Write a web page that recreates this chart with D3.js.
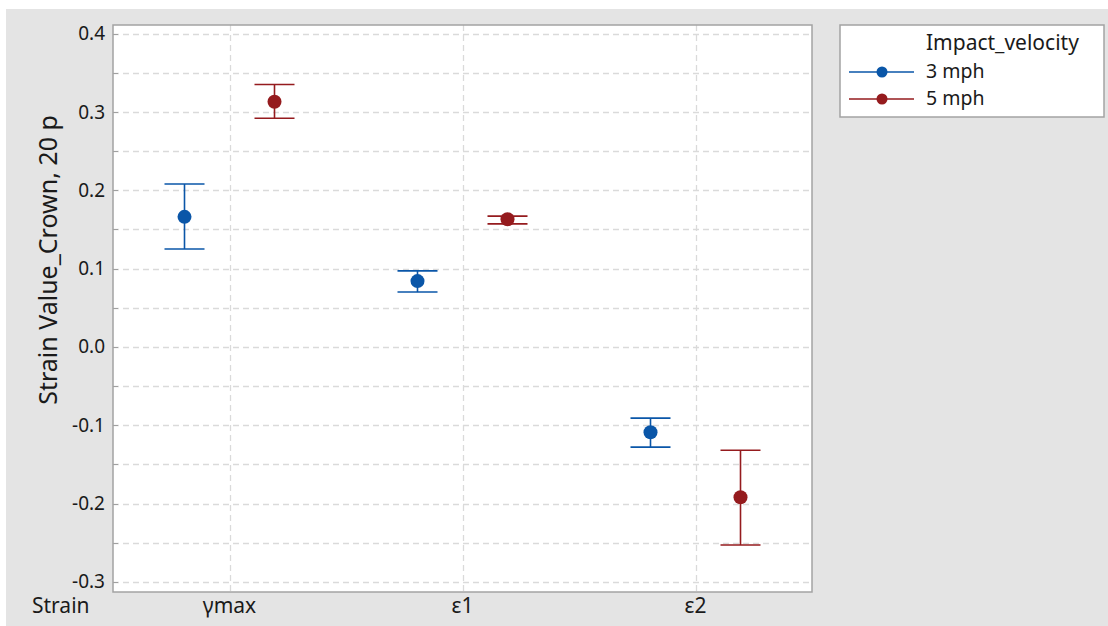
<!DOCTYPE html>
<html>
<head>
<meta charset="utf-8">
<script src="https://cdn.jsdelivr.net/npm/d3@7"></script>
<style>
  html, body { margin: 0; padding: 0; background: #ffffff; }
  svg { display: block; }
  text { font-family: "Noto Sans", "Open Sans", sans-serif; fill: #1a1a1a; }
</style>
</head>
<body>
<svg id="chart" width="1108" height="626"></svg>
<script>
// Strain categories along the x axis
const categories = ["γmax", "ε1", "ε2"];
// Impact velocity groups
const series = ["3 mph", "5 mph"];
const seriesColors = ["#0a56a8", "#951b1e"];
// Mean strain per category for each velocity
const means3 = [0.166, 0.084, -0.109];
const means5 = [0.313, 0.163, -0.192];
// Interval bounds (lower, upper)
const lower3 = [0.125, 0.070, -0.128];
const upper3 = [0.208, 0.097, -0.091];
const lower5 = [0.292, 0.157, -0.253];
const upper5 = [0.335, 0.167, -0.132];
// Axis tick labels
const yTicks = [-0.3, -0.2, -0.1, 0.0, 0.1, 0.2, 0.3, 0.4];
const yGrid = [-0.3, -0.25, -0.2, -0.15, -0.1, -0.05, 0, 0.05, 0.1, 0.15, 0.2, 0.25, 0.3, 0.35, 0.4];

const svg = d3.select("#chart");

// grey backdrop
svg.append("rect").attr("x", 6).attr("y", 9).attr("width", 1102).attr("height", 617).attr("fill", "#e4e4e4");

const plot = { left: 113, right: 812, top: 25, bottom: 592 };

const x = d3.scaleBand().domain(categories).range([plot.left, plot.right]);
const xo = d3.scalePoint().domain(series).range([-45, 45]);
const y = d3.scaleLinear().domain([-0.313, 0.411]).range([plot.bottom, plot.top]);
const cxCat = c => x(c) + x.bandwidth() / 2;

// plot panel
svg.append("rect")
  .attr("x", plot.left).attr("y", plot.top)
  .attr("width", plot.right - plot.left).attr("height", plot.bottom - plot.top)
  .attr("fill", "#ffffff");

// dashed grid
const grid = svg.append("g");
grid.selectAll("line.h").data(yGrid).join("line")
  .attr("x1", plot.left).attr("x2", plot.right)
  .attr("y1", d => Math.round(y(d)) + 0.5).attr("y2", d => Math.round(y(d)) + 0.5)
  .attr("stroke", "#dadada").attr("stroke-width", 1.3).attr("stroke-dasharray", "6,4");
grid.selectAll("line.v").data(categories).join("line")
  .attr("x1", d => Math.round(cxCat(d)) + 0.5)
  .attr("x2", d => Math.round(cxCat(d)) + 0.5)
  .attr("y1", plot.top).attr("y2", plot.bottom)
  .attr("stroke", "#dadada").attr("stroke-width", 1.3).attr("stroke-dasharray", "6,4");

// y axis
const yAxis = d3.axisLeft(y).tickValues(yTicks).tickFormat(d3.format(".1f")).tickSize(0).tickPadding(8);
const ya = svg.append("g").attr("transform", `translate(${plot.left},0)`).call(yAxis);
ya.select(".domain").remove();
ya.selectAll("text").style("font-size", "19px").attr("fill", "#1a1a1a")
  .text(d => d3.format(".1f")(d).replace("−", "-"));
// small inner ticks
svg.append("g").selectAll("line").data(yGrid).join("line")
  .attr("x1", plot.left).attr("x2", plot.left + 5)
  .attr("y1", d => Math.round(y(d)) + 0.5).attr("y2", d => Math.round(y(d)) + 0.5)
  .attr("stroke", "#a0a0a0").attr("stroke-width", 1);

// x category labels
svg.append("g").selectAll("text").data(categories).join("text")
  .attr("x", d => cxCat(d)).attr("y", 613)
  .attr("text-anchor", "middle")
  .style("font-size", "21px")
  .text(d => d);

svg.append("text").attr("x", 32).attr("y", 613).style("font-size", "21px").text("Strain");

// y title
svg.append("text")
  .attr("transform", "translate(57,260) rotate(-90)")
  .attr("text-anchor", "middle")
  .style("font-size", "25px")
  .text("Strain Value_Crown, 20 p");

// panel border
svg.append("rect")
  .attr("x", plot.left).attr("y", plot.top)
  .attr("width", plot.right - plot.left).attr("height", plot.bottom - plot.top)
  .attr("fill", "none").attr("stroke", "#a3a3a3").attr("stroke-width", 1.5);

// interval marks
const groups = [
  { name: series[0], color: seriesColors[0], means: means3, lo: lower3, hi: upper3 },
  { name: series[1], color: seriesColors[1], means: means5, lo: lower5, hi: upper5 }
];
const capHalf = 20;
groups.forEach(g => {
  const rows = categories.map((c, i) => ({ c, m: g.means[i], lo: g.lo[i], hi: g.hi[i] }));
  const cx = d => cxCat(d.c) + xo(g.name);
  const layer = svg.append("g").attr("stroke", g.color).attr("stroke-width", 1.6);
  layer.selectAll("line.stem").data(rows).join("line")
    .attr("x1", cx).attr("x2", cx).attr("y1", d => y(d.hi)).attr("y2", d => y(d.lo));
  layer.selectAll("line.top").data(rows).join("line")
    .attr("x1", d => cx(d) - capHalf).attr("x2", d => cx(d) + capHalf)
    .attr("y1", d => y(d.hi)).attr("y2", d => y(d.hi));
  layer.selectAll("line.bot").data(rows).join("line")
    .attr("x1", d => cx(d) - capHalf).attr("x2", d => cx(d) + capHalf)
    .attr("y1", d => y(d.lo)).attr("y2", d => y(d.lo));
  svg.append("g").selectAll("circle").data(rows).join("circle")
    .attr("cx", cx).attr("cy", d => y(d.m)).attr("r", 7)
    .attr("fill", g.color);
});

// legend
const lg = svg.append("g");
lg.append("rect").attr("x", 840).attr("y", 25).attr("width", 264).attr("height", 92)
  .attr("fill", "#ffffff").attr("stroke", "#a3a3a3").attr("stroke-width", 1.5);
lg.append("text").attr("x", 926).attr("y", 50).style("font-size", "21px").text("Impact_velocity");
groups.forEach((g, i) => {
  const yy = 72 + i * 27;
  lg.append("line").attr("x1", 849).attr("x2", 914).attr("y1", yy).attr("y2", yy)
    .attr("stroke", g.color).attr("stroke-width", 1.5);
  lg.append("circle").attr("cx", 882).attr("cy", yy).attr("r", 5.5).attr("fill", g.color);
  lg.append("text").attr("x", 926).attr("y", yy + 6).style("font-size", "19.5px").text(g.name);
});
</script>
</body>
</html>
